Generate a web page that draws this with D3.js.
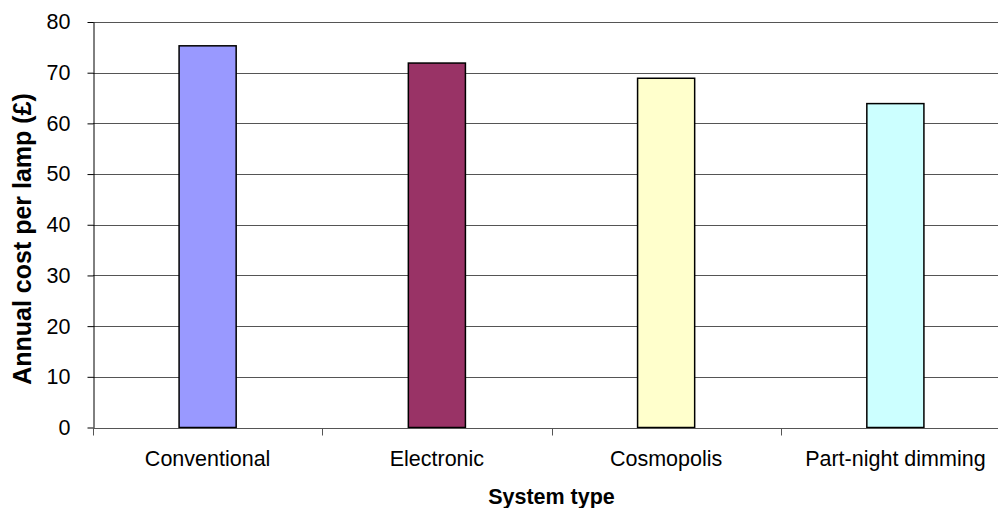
<!DOCTYPE html>
<html>
<head>
<meta charset="utf-8">
<script src="https://cdn.jsdelivr.net/npm/d3@7/dist/d3.min.js"></script>
<style>
  html, body { margin: 0; padding: 0; background: #fff; }
  svg { display: block; }
  text { font-family: "Liberation Sans", Arial, sans-serif; fill: #000; }
</style>
</head>
<body>
<svg id="chart" width="998" height="508"></svg>
<script>
// Annual running cost per lamp for each lighting control system
const categories = ["Conventional", "Electronic", "Cosmopolis", "Part-night dimming"];
const costs = [75.3, 71.9, 68.9, 63.9];
const barColors = ["#9999FF", "#993366", "#FFFFCC", "#CCFFFF"];
const yTicks = [0, 10, 20, 30, 40, 50, 60, 70, 80];

const svg = d3.select("#chart");
const W = 998, H = 508;
const plot = { left: 93, right: 1010, top: 22, bottom: 427.5 };

const x = d3.scaleBand()
  .domain(categories)
  .range([plot.left, plot.right])
  .paddingInner(0.751)
  .paddingOuter(0.751 / 2);
const step = x.step();

const y = d3.scaleLinear().domain([0, 80]).range([plot.bottom, plot.top]);

// Horizontal gridlines
svg.append("g")
  .selectAll("line")
  .data(yTicks.filter(d => d > 0))
  .join("line")
  .attr("x1", plot.left).attr("x2", W)
  .attr("y1", d => Math.round(y(d)) + 0.5).attr("y2", d => Math.round(y(d)) + 0.5)
  .attr("stroke", "#555").attr("stroke-width", 1);

// Y axis
const yAxis = svg.append("g")
  .attr("transform", `translate(${plot.left + 0.5},0)`)
  .call(d3.axisLeft(y).tickValues(yTicks).tickSize(6).tickPadding(17).tickSizeOuter(0));
yAxis.select(".domain").attr("stroke", "#000");
yAxis.selectAll(".tick line").attr("stroke", "#000");
yAxis.selectAll(".tick text")
  .style("font-size", "21.5px")
  .style("font-family", "'Liberation Sans', Arial, sans-serif")
  .attr("fill", "#000");

// Bars
svg.append("g")
  .selectAll("rect")
  .data(categories)
  .join("rect")
  .attr("x", d => x(d))
  .attr("width", x.bandwidth())
  .attr("y", (d, i) => y(costs[i]))
  .attr("height", (d, i) => y(0) - y(costs[i]))
  .attr("fill", (d, i) => barColors[i])
  .attr("stroke", "#000")
  .attr("stroke-width", 1.5);

// X axis line with category separator ticks
const baseY = Math.round(plot.bottom) + 0.5;
svg.append("line")
  .attr("x1", plot.left).attr("x2", W)
  .attr("y1", baseY).attr("y2", baseY)
  .attr("stroke", "#555").attr("stroke-width", 1);

const sepTicks = [x(categories[0]) + x.bandwidth() / 2 - step / 2]
  .concat(categories.map(c => x(c) + x.bandwidth() / 2 + step / 2));
svg.append("g")
  .selectAll("line")
  .data(sepTicks.filter(v => v < W))
  .join("line")
  .attr("x1", d => Math.round(d) + 0.5).attr("x2", d => Math.round(d) + 0.5)
  .attr("y1", baseY).attr("y2", baseY + 7)
  .attr("stroke", "#555").attr("stroke-width", 1);

// Category labels
svg.append("g")
  .selectAll("text")
  .data(categories)
  .join("text")
  .attr("x", d => x(d) + x.bandwidth() / 2)
  .attr("y", 465.5)
  .attr("text-anchor", "middle")
  .style("font-size", "21.5px")
  .text(d => d);

// Axis titles
svg.append("text")
  .attr("x", (plot.left + plot.right) / 2)
  .attr("y", 504)
  .attr("text-anchor", "middle")
  .style("font-size", "21.5px")
  .style("font-weight", "bold")
  .text("System type");

svg.append("text")
  .attr("transform", `translate(31,239) rotate(-90)`)
  .attr("text-anchor", "middle")
  .style("font-size", "25px")
  .style("font-weight", "bold")
  .text("Annual cost per lamp (£)");
</script>
</body>
</html>
